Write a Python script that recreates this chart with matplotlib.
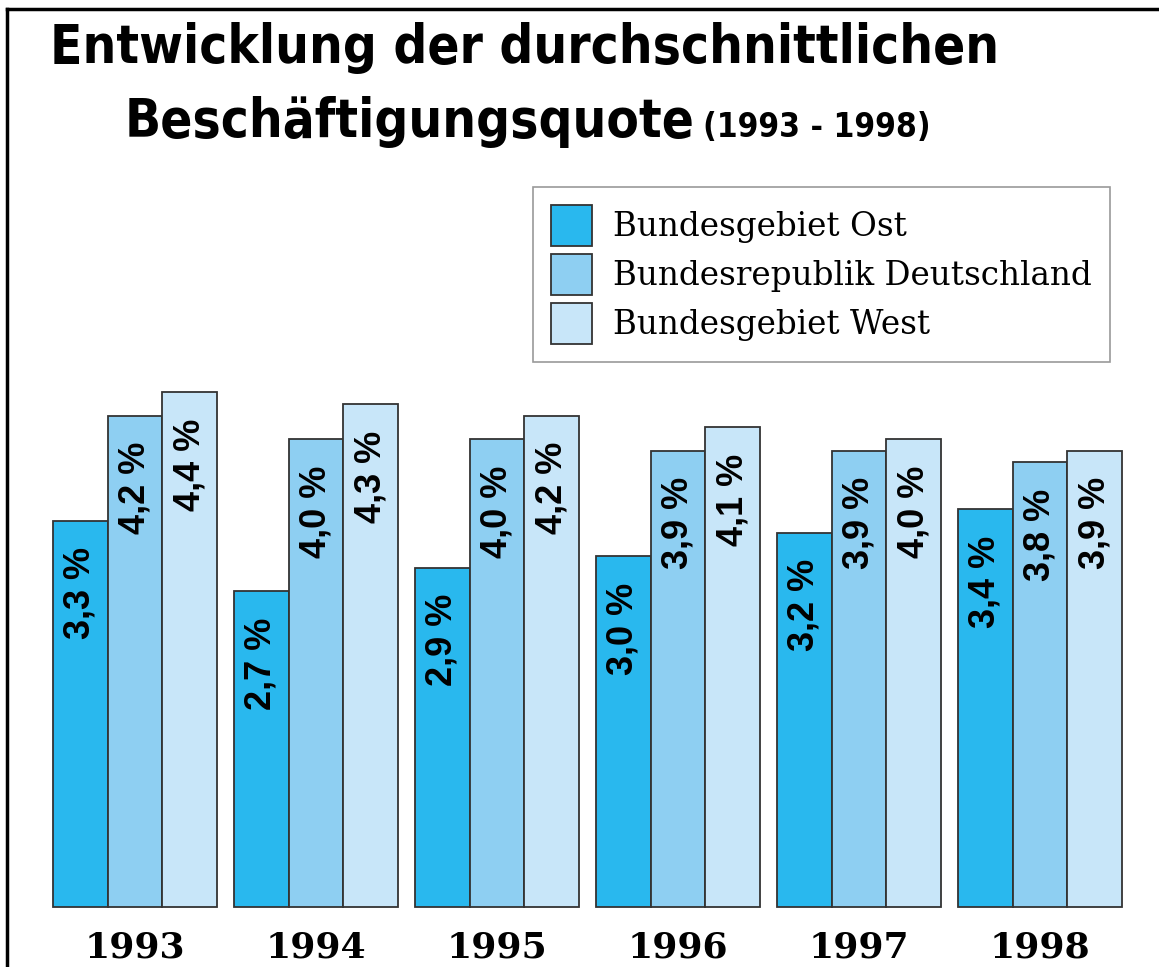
import numpy as np
import matplotlib
matplotlib.use("Agg")
import matplotlib.pyplot as plt

# Daten
years = ["1993", "1994", "1995", "1996", "1997", "1998"]
series_names = ["Bundesgebiet Ost", "Bundesrepublik Deutschland", "Bundesgebiet West"]
ost = [3.3, 2.7, 2.9, 3.0, 3.2, 3.4]
brd = [4.2, 4.0, 4.0, 3.9, 3.9, 3.8]
west = [4.4, 4.3, 4.2, 4.1, 4.0, 3.9]
colors = ["#29B8EE", "#8ECFF2", "#C8E6F9"]

W, H = 1159, 967
fig = plt.figure(figsize=(W / 100, H / 100), dpi=100)
ax = fig.add_axes([0, 0, 1, 1])

# x: Gruppenmitte i bei Pixel 135 + 181*i ; y: Basis bei Pixel 907, 117 px je Prozentpunkt
ax.set_xlim((0 - 135) / 181, (W - 135) / 181)
ax.set_ylim(-(H - 907) / 117, 907 / 117)
ax.axis("off")

width = 0.302
x = np.arange(len(years))
for k, vals in enumerate([ost, brd, west]):
    xs = x + (k - 1) * width
    ax.bar(xs, vals, width, color=colors[k], edgecolor="#333333",
           linewidth=1.3, label=series_names[k], zorder=2)
    for xi, v in zip(xs, vals):
        ax.annotate(f"{v:.1f} %".replace(".", ","), (xi, v), xytext=(0, -19),
                    textcoords="offset points", rotation=90, ha="center", va="top",
                    fontsize=26, fontweight="bold", family="Liberation Sans", color="black")

for xi, yr in zip(x, years):
    ax.text(xi, -0.35, yr, ha="center", va="center", fontsize=26,
            fontweight="bold", family="DejaVu Serif", color="black")

leg = ax.legend(loc="upper left", bbox_to_anchor=(533 / W, 1 - 187 / H),
                bbox_transform=fig.transFigure, prop={"family": "DejaVu Serif", "size": 23.5},
                frameon=True, fancybox=False, edgecolor="#9a9a9a", framealpha=1,
                handlelength=1.26, handleheight=1.55, labelspacing=0.25,
                borderpad=0.55, handletextpad=0.64, borderaxespad=0)
leg.get_frame().set_linewidth(1.2)

# Titel
title_font = dict(fontweight="bold", family="DejaVu Sans", fontstretch="condensed", color="black")
fig.text(50 / W, 1 - 63 / H, "Entwicklung der durchschnittlichen", fontsize=38,
         va="baseline", ha="left", **title_font)
fig.text(125 / W, 1 - 137 / H, "Beschäftigungsquote", fontsize=38,
         va="baseline", ha="left", **title_font)
fig.text(703 / W, 1 - 137 / H, "(1993 - 1998)", fontsize=24,
         va="baseline", ha="left", **title_font)

# Rahmen links und oben
fig.add_artist(plt.Line2D([6.5 / W, 6.5 / W], [0, 1 - 8.5 / H], color="black", lw=2.5))
fig.add_artist(plt.Line2D([6.5 / W, 1], [1 - 8.5 / H, 1 - 8.5 / H], color="black", lw=2.5))

fig.savefig("out.png", dpi=100)
